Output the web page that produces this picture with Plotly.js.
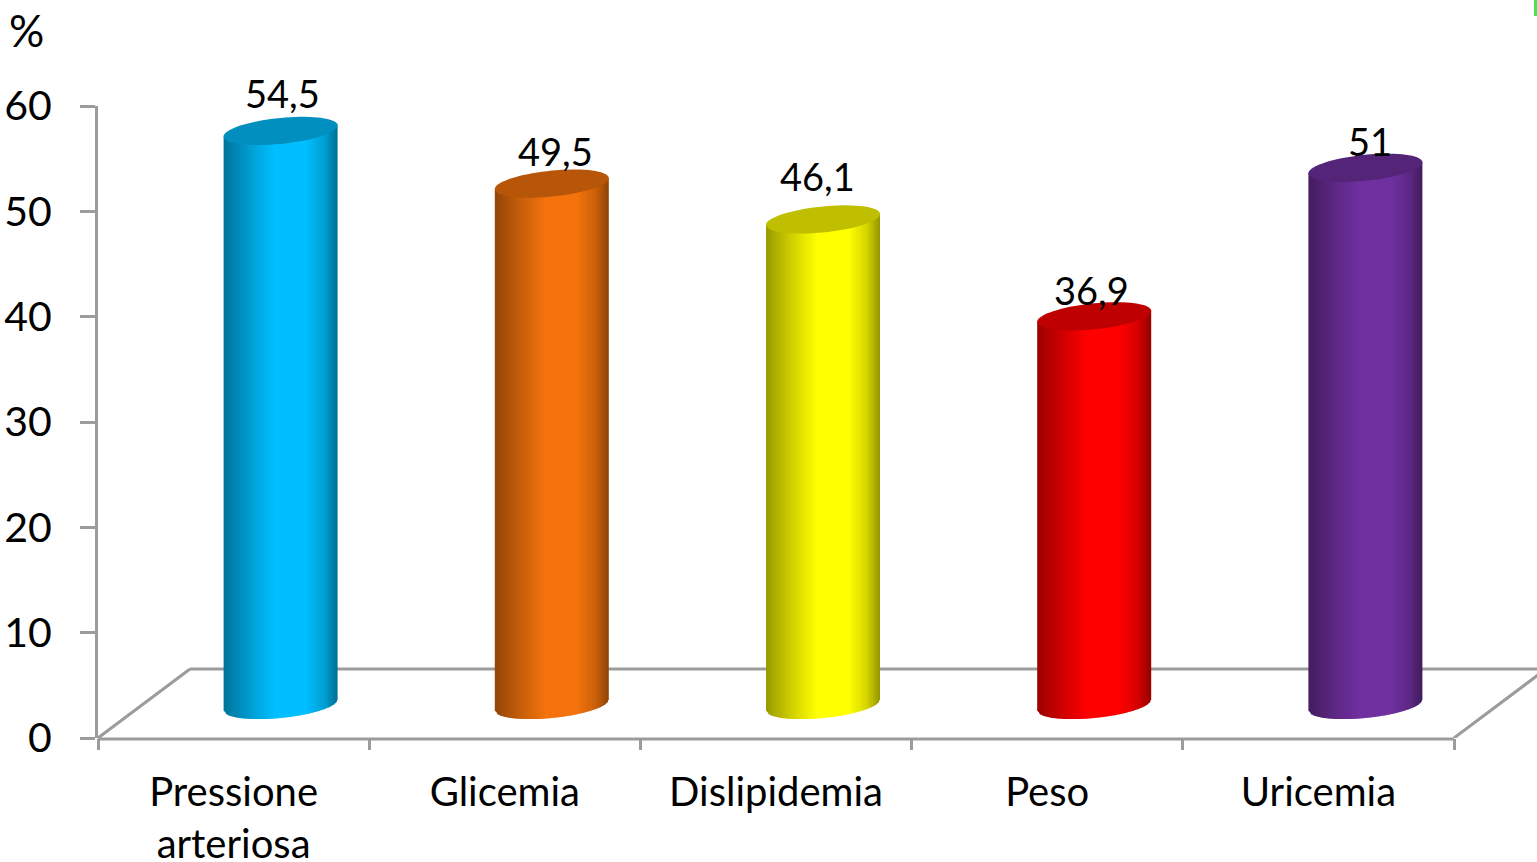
<!DOCTYPE html>
<html>
<head>
<meta charset="utf-8">
<script src="https://cdn.plot.ly/plotly-3.0.1.min.js"></script>
<style>html,body{margin:0;padding:0;background:#fff;overflow:hidden}</style>
</head>
<body>
<div id="chart" style="width:1537px;height:862px"></div>
<script>
const categories = ['Pressione<br>arteriosa', 'Glicemia', 'Dislipidemia', 'Peso', 'Uricemia'];
const values = [54.5, 49.5, 46.1, 36.9, 51];
const sideColors = [[0, 191, 255], [244, 115, 12], [255, 255, 0], [255, 0, 0], [112, 48, 160]];
const labelShiftX = [2, 4, -6, -3, 5];
const labelLift = [38, 33, 43, 26, 27];
const yTicks = [0, 10, 20, 30, 40, 50, 60];

// Plot size and unit conversions for the pseudo-3D construction
const plotW = 1439, plotH = 632;
const catW = 271.2;
const yUnit = plotH / 60;
const pxX = p => p / catW;
const pxY = p => p / yUnit;

const xMin = 0.5, xMax = 0.5 + plotW / catW;
const depthX = pxX(47), depthY = pxY(33);   // cylinders stand in the middle of the floor
const radius = 57, minor = 13, tilt = 0.096;

// Shading across a cylinder, from left edge to right edge
const shadePos = [0, 0.08, 0.3, 0.45, 0.72, 0.88, 1];
const shadeVal = [0.6, 0.68, 0.88, 1, 1, 0.84, 0.58];
function shade(t) {
  for (let i = 1; i < shadePos.length; i++) {
    if (t <= shadePos[i]) {
      const f = (t - shadePos[i - 1]) / (shadePos[i] - shadePos[i - 1]);
      return shadeVal[i - 1] + f * (shadeVal[i] - shadeVal[i - 1]);
    }
  }
  return shadeVal[shadeVal.length - 1];
}
const rgb = (c, k) => `rgb(${c.map(v => Math.round(v * k)).join(',')})`;

// Axis of the ellipse rises to the right; the front rim hangs below it (pixel offsets)
const axisY = dx => tilt * dx;
const frontRim = dx => axisY(dx) - minor * Math.sqrt(Math.max(0, 1 - (dx / radius) ** 2));

const shapes = [];
const gray = '#9c9c9c';
const line = (x0, y0, x1, y1) => ({type: 'line', xref: 'x', yref: 'y', x0, y0, x1, y1, layer: 'below', line: {color: gray, width: 3}});
const backX = xMin + pxX(92), backY = pxY(69);
// front edge of the floor, in paper units on y so the plot clip does not halve its stroke
shapes.push({type: 'line', xref: 'x', yref: 'paper', x0: xMin, x1: 5.5, y0: -1 / plotH, y1: -1 / plotH, layer: 'below', line: {color: gray, width: 3}});
shapes.push(line(xMin, 0, backX, backY));
shapes.push(line(backX, backY, xMax, backY));
shapes.push(line(5.5, 0, 5.5 + pxX(92), backY));

const strips = 48;
values.forEach((v, i) => {
  const cx = i + 1 + depthX;
  const base = depthY;
  const top = base + v;
  const col = sideColors[i];
  // side of the cylinder, painted left to right as overlapping vertical strips
  for (let s = 0; s < strips; s++) {
    const d0 = -radius + 2 * radius * s / strips;
    const d1 = s === strips - 1 ? radius : -radius + 2 * radius * (s + 1.6) / strips;
    const x0 = cx + pxX(d0), x1 = cx + pxX(d1);
    const path = `M${x0},${top + pxY(axisY(d0))} L${x1},${top + pxY(axisY(d1))} ` +
      `L${x1},${base + pxY(frontRim(d1))} L${x0},${base + pxY(frontRim(d0))} Z`;
    shapes.push({type: 'path', xref: 'x', yref: 'y', path, fillcolor: rgb(col, shade((s + 0.5) / strips)), line: {width: 0}, layer: 'above'});
  }
  // top cap
  let cap = '';
  for (let k = 0; k <= 72; k++) {
    const a = 2 * Math.PI * k / 72;
    const dx = radius * Math.cos(a);
    const dy = axisY(dx) + minor * Math.sin(a);
    cap += `${k ? 'L' : 'M'}${cx + pxX(dx)},${top + pxY(dy)} `;
  }
  shapes.push({type: 'path', xref: 'x', yref: 'y', path: cap + 'Z', fillcolor: rgb(col, 0.75), line: {width: 0}, layer: 'above'});
});

// small green mark in the top right corner
shapes.push({type: 'rect', xref: 'paper', yref: 'paper', x0: (1534 - 98) / plotW, x1: 1, y0: (738 - 16) / plotH, y1: 738 / plotH, fillcolor: '#4fe24f', line: {width: 0}});

const fontFamily = 'Lato, "Open Sans", sans-serif';
const annotations = values.map((v, i) => ({
  x: i + 1 + depthX, y: depthY + v,
  xref: 'x', yref: 'y',
  text: String(v).replace('.', ','),
  showarrow: false,
  xshift: labelShiftX[i], yshift: labelLift[i],
  font: {family: fontFamily, size: 38, color: '#000'}
}));
annotations.push({x: xMin, y: 60, xref: 'x', yref: 'y', text: '%', showarrow: false, xshift: -72, yshift: 76, font: {family: fontFamily, size: 44, color: '#000'}});

const bars = {
  type: 'bar',
  x: values.map((_, i) => i + 1 + depthX),
  y: values,
  base: values.map(() => depthY),
  width: pxX(radius * 1.6),
  marker: {color: sideColors.map(c => rgb(c, 1))},
  hoverinfo: 'skip'
};

const layout = {
  width: 1537, height: 862,
  margin: {l: 98, r: 0, t: 106, b: 124, pad: 0},
  paper_bgcolor: '#fff', plot_bgcolor: '#fff',
  showlegend: false,
  font: {family: fontFamily, color: '#000'},
  xaxis: {
    type: 'linear', range: [xMin, xMax], showgrid: false, zeroline: false, showline: false,
    tickmode: 'array', tickvals: categories.map((_, i) => i + 1), ticktext: categories,
    ticks: '', tickfont: {size: 40, family: fontFamily}, ticklabelstandoff: 27, tickangle: 0,
    minor: {tickmode: 'array', tickvals: [0.5, 1.5, 2.5, 3.5, 4.5, 5.5], ticks: 'outside', ticklen: 11, tickwidth: 3, tickcolor: gray, showgrid: false}
  },
  yaxis: {
    range: [0, 60], showgrid: false, zeroline: false, showline: true, linecolor: gray, linewidth: 3,
    tickmode: 'array', tickvals: yTicks, ticks: 'outside', ticklen: 15, tickwidth: 3, tickcolor: gray,
    tickfont: {size: 41, family: fontFamily}, ticklabelstandoff: 20
  },
  shapes, annotations
};

Plotly.newPlot('chart', [bars], layout, {displayModeBar: false, staticPlot: true});
</script>
</body>
</html>
